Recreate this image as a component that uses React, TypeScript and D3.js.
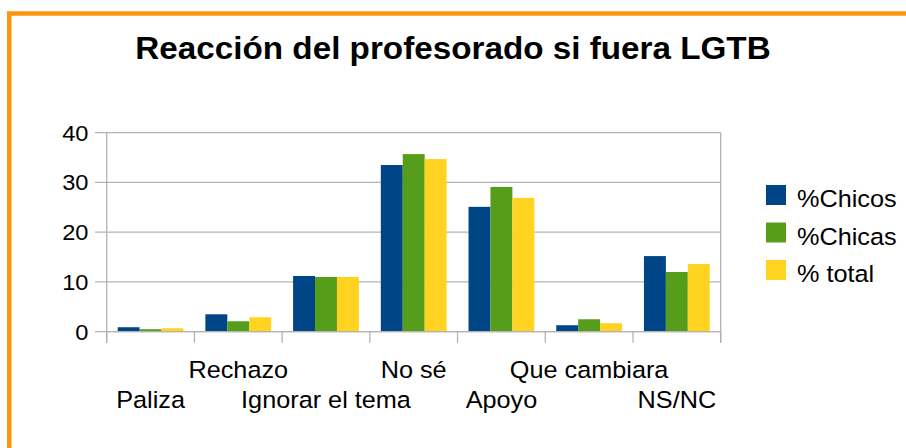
import React from "react";
import * as d3 from "d3";

const categories = ["Paliza", "Rechazo", "Ignorar el tema", "No sé", "Apoyo", "Que cambiara", "NS/NC"];
const seriesNames = ["%Chicos", "%Chicas", "% total"];
const chicos = [0.9, 3.5, 11.2, 33.5, 25.1, 1.3, 15.2];
const chicas = [0.5, 2.1, 11.0, 35.7, 29.1, 2.5, 12.0];
const total = [0.7, 2.9, 11.0, 34.7, 26.9, 1.7, 13.6];
const yTicks = [0, 10, 20, 30, 40];
const colors = ["#004586", "#579d1c", "#ffd320"];

const W = 906;
const H = 448;
const left = 106.7;
const right = 720.7;
const top = 132.7;
const bottom = 331.7;
const FONT = "'Liberation Sans', Arial, sans-serif";

function T(props: { x: number; y: number; size: number; anchor?: string; bold?: boolean; sx?: number; children: React.ReactNode }) {
  const { x, y, size, anchor = "middle", bold, sx = 1.075, children } = props;
  return (
    <text
      transform={`translate(${x},${y}) scale(${sx},1)`}
      fontSize={size}
      fontFamily={FONT}
      fontWeight={bold ? "bold" : "normal"}
      textAnchor={anchor}
      fill="#000"
    >
      {children}
    </text>
  );
}

export default function App() {
  const series = [chicos, chicas, total];
  const x0 = d3.scaleBand<string>().domain(categories).range([left, right]).paddingInner(0).paddingOuter(0);
  const bw = x0.bandwidth();
  const x1 = d3.scaleBand<number>().domain([0, 1, 2]).range([bw * 0.125, bw * 0.875]).padding(0);
  const y = d3.scaleLinear().domain([0, 40]).range([bottom, top]);
  const tickXs = [...categories.map((c) => x0(c) as number), right];
  const grid = "#b3b3b3";

  return (
    <svg width={W} height={H} style={{ position: "absolute", left: 0, top: 0, background: "#fff" }}>
      <rect x={0} y={0} width={W} height={H} fill="#fff" />
      <rect x={9.25} y={13.5} width={1200} height={1200} fill="none" stroke="#ff950e" strokeWidth={4.5} />
      <T x={453} y={58.5} size={30.5} bold sx={1.09}>
        Reacción del profesorado si fuera LGTB
      </T>
      {yTicks.map((t) => (
        <g key={t}>
          <line x1={95} x2={right} y1={y(t)} y2={y(t)} stroke={grid} strokeWidth={1.3} />
          <T x={88.5} y={y(t) + 8} size={22} anchor="end">
            {t}
          </T>
        </g>
      ))}
      {series.map((vals, si) =>
        vals.map((v, ci) => (
          <rect
            key={`${si}-${ci}`}
            x={(x0(categories[ci]) as number) + (x1(si) as number)}
            y={y(v)}
            width={x1.bandwidth()}
            height={bottom - y(v)}
            fill={colors[si]}
          />
        ))
      )}
      <line x1={left} x2={left} y1={top} y2={bottom + 11} stroke={grid} strokeWidth={1.3} />
      <line x1={right} x2={right} y1={top} y2={bottom + 11} stroke={grid} strokeWidth={1.3} />
      <line x1={left} x2={right} y1={bottom} y2={bottom} stroke={grid} strokeWidth={1.3} />
      {tickXs.map((tx, i) => (
        <line key={i} x1={tx} x2={tx} y1={bottom} y2={bottom + 11} stroke={grid} strokeWidth={1.3} />
      ))}
      {categories.map((c, i) => (
        <T key={c} x={(x0(c) as number) + bw / 2} y={i % 2 === 1 ? 377.5 : 407.5} size={23.5}>
          {c}
        </T>
      ))}
      {seriesNames.map((n, i) => {
        const ly = 185 + i * 37.5;
        return (
          <g key={n}>
            <rect x={766} y={ly} width={20} height={20} fill={colors[i]} />
            <T x={797} y={ly + 22} size={23.5} anchor="start">
              {n}
            </T>
          </g>
        );
      })}
    </svg>
  );
}
